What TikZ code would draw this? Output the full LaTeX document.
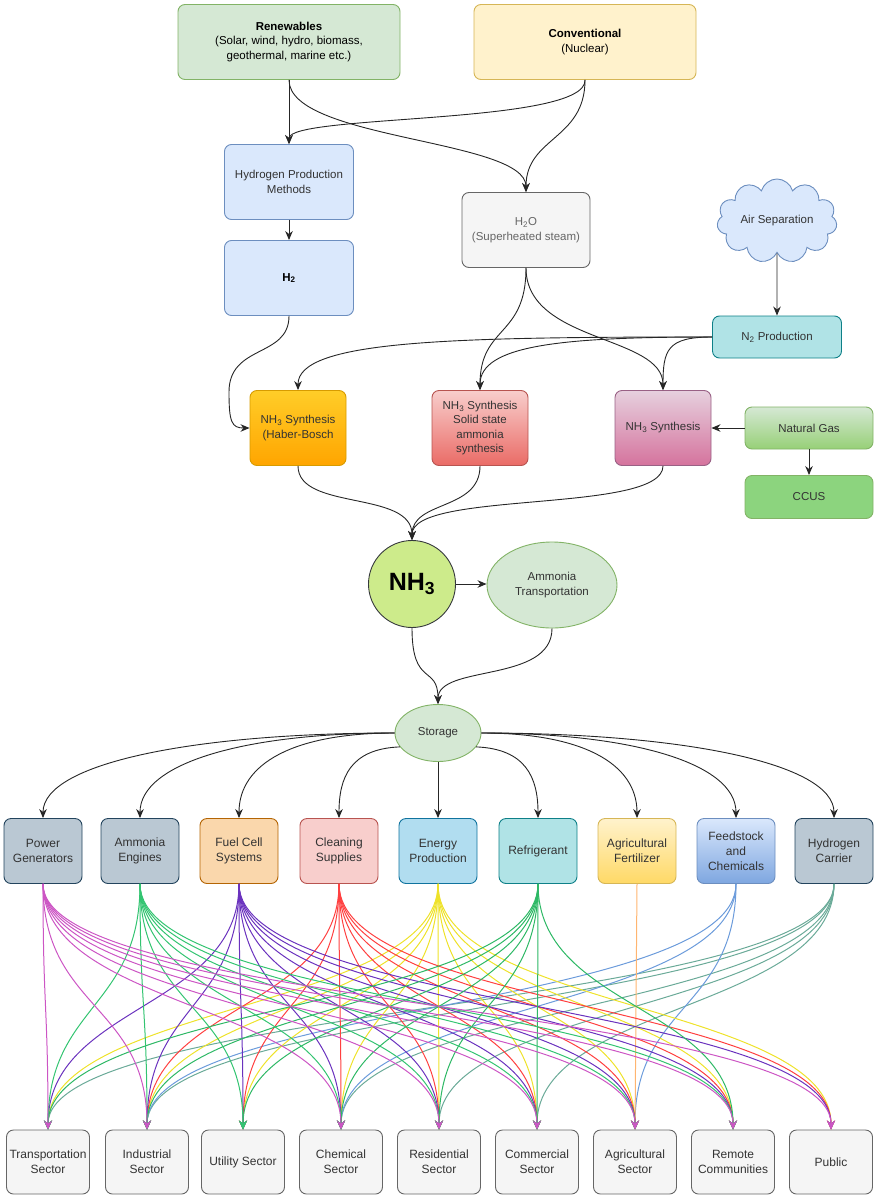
\documentclass[tikz,border=0pt]{standalone}
\usepackage{fontspec}
\setmainfont{Liberation Sans}
\usetikzlibrary{arrows.meta}
\usetikzlibrary{shapes.geometric,shapes.symbols}

\definecolor{txt}{HTML}{333333}
\definecolor{greenfill}{HTML}{D5E8D4}
\definecolor{greenline}{HTML}{82B366}
\definecolor{greendeep}{HTML}{97D077}
\definecolor{ccusfill}{HTML}{8CD47E}
\definecolor{yellowfill}{HTML}{FFF2CC}
\definecolor{yellowline}{HTML}{D6B656}
\definecolor{yellowdeep}{HTML}{FFD966}
\definecolor{bluefill}{HTML}{DAE8FC}
\definecolor{blueline}{HTML}{6C8EBF}
\definecolor{bluedeep}{HTML}{7EA6E0}
\definecolor{grayfill}{HTML}{F5F5F5}
\definecolor{grayline}{HTML}{666666}
\definecolor{tealfill}{HTML}{B0E3E6}
\definecolor{tealline}{HTML}{0E8088}
\definecolor{slatefill}{HTML}{BAC8D3}
\definecolor{slateline}{HTML}{23445D}
\definecolor{orangetop}{HTML}{FFCD28}
\definecolor{orangebot}{HTML}{FFA500}
\definecolor{orangeline}{HTML}{D79B00}
\definecolor{redfill}{HTML}{F8CECC}
\definecolor{reddeep}{HTML}{EA6B66}
\definecolor{redline}{HTML}{B85450}
\definecolor{pinkfill}{HTML}{E6D0DE}
\definecolor{pinkdeep}{HTML}{D5739D}
\definecolor{pinkline}{HTML}{996185}
\definecolor{peachfill}{HTML}{FAD7AC}
\definecolor{peachline}{HTML}{B46504}
\definecolor{skyfill}{HTML}{B1DDF0}
\definecolor{skyline}{HTML}{10739E}
\definecolor{limefill}{HTML}{CDEB8B}
\definecolor{limeline}{HTML}{36393D}
% colours of the sector links
\definecolor{pgc}{HTML}{CC55C4}
\definecolor{aec}{HTML}{33C471}
\definecolor{fcc}{HTML}{6A32BE}
\definecolor{clc}{HTML}{FF4040}
\definecolor{epc}{HTML}{EEE22A}
\definecolor{rfc}{HTML}{2DB865}
\definecolor{afc}{HTML}{FFB570}
\definecolor{fsc}{HTML}{6B9BDB}
\definecolor{hcc}{HTML}{6AAA98}

\tikzset{   base/.style = {rectangle, rounded corners=7pt, draw, line width=0.9pt, align=center, text=txt,
                           font=\fontsize{11.5}{14.5}\selectfont, inner sep=2pt},
            topbox/.style = {base, text=black, minimum width=222pt, minimum height=75pt},
            midbox/.style = {base, minimum width=129pt, minimum height=75pt},
            synth/.style = {base, minimum width=96pt, minimum height=75pt},
            app/.style = {base, font=\fontsize{12}{15}\selectfont, minimum width=78pt, minimum height=65pt},
            sector/.style = {base, font=\fontsize{12}{15}\selectfont, fill=grayfill, draw=grayline, minimum width=83pt, minimum height=64pt},
            roundish/.style = {draw=greenline, fill=greenfill, line width=0.9pt, text=txt, align=center,
                           font=\fontsize{11.5}{14.5}\selectfont, inner sep=0pt},
            conn/.style = {-{Stealth[length=9pt,width=7.5pt]}, line width=0.9pt, draw=black!85},
            flow/.style = {-{Stealth[length=9pt,width=8pt]}, line width=1pt, draw=#1}}

\begin{document}
\begin{tikzpicture}[x=1pt,y=-1pt]
\useasboundingbox (0,0) rectangle (874,1196);

\node[topbox, fill=greenfill, draw=greenline] (ren) at (289,42) {\textbf{Renewables}\\(Solar, wind, hydro, biomass,\\geothermal, marine etc.)};
\node[topbox, fill=yellowfill, draw=yellowline] (conv) at (585,42) {\textbf{Conventional}\\(Nuclear)};
\node[midbox, fill=bluefill, draw=blueline] (hpm) at (289,182) {Hydrogen Production\\Methods};
\node[midbox, fill=bluefill, draw=blueline, text=black] (htwo) at (289,278) {\textbf{H\textsubscript{2}}};
\node[midbox, fill=grayfill, draw=grayline, text=grayline, minimum width=128pt] (water) at (526,230) {H\textsubscript{2}O\\(Superheated steam)};
\node[cloud, cloud puffs=11, aspect=1.6, draw=blueline, fill=bluefill, line width=0.9pt, text=txt,
      font=\fontsize{11.5}{14.5}\selectfont, minimum width=120pt, minimum height=75pt, inner sep=0pt] (air) at (777,221) {Air Separation};
\node[midbox, fill=tealfill, draw=tealline, minimum height=42pt] (ntwo) at (777,337) {N\textsubscript{2} Production};

\node[synth, top color=orangetop, bottom color=orangebot, draw=orangeline] (hb) at (298,428) {NH\textsubscript{3} Synthesis\\(Haber-Bosch};
\node[synth, top color=redfill, bottom color=reddeep, draw=redline] (solid) at (480,428) {NH\textsubscript{3} Synthesis\\Solid state\\ammonia\\synthesis};
\node[synth, top color=pinkfill, bottom color=pinkdeep, draw=pinkline] (pink) at (663,428) {NH\textsubscript{3} Synthesis};
\node[midbox, top color=greenfill, bottom color=greendeep, draw=greenline, minimum width=128pt, minimum height=42pt] (gas) at (809,428) {Natural Gas};
\node[midbox, fill=ccusfill, draw=greenline, minimum width=128pt, minimum height=43pt] (ccus) at (809,497) {CCUS};

\node[circle, draw=limeline, fill=limefill, line width=0.9pt, text=black,
      minimum size=87pt, inner sep=0pt, font=\fontsize{25}{30}\selectfont\bfseries] (nh) at (412,584) {NH\textsubscript{3}};
\node[ellipse, roundish, minimum width=130pt, minimum height=86pt] (trans) at (552,585) {Ammonia\\Transportation};
\node[ellipse, roundish, minimum width=86pt, minimum height=57pt] (st) at (438,733) {Storage};

% applications
\node[app, fill=slatefill, draw=slateline] (pg) at (43,851) {Power\\Generators};
\node[app, fill=slatefill, draw=slateline] (ae) at (140,851) {Ammonia\\Engines};
\node[app, fill=peachfill, draw=peachline] (fc) at (239,851) {Fuel Cell\\Systems};
\node[app, fill=redfill, draw=redline] (cl) at (339,851) {Cleaning\\Supplies};
\node[app, fill=skyfill, draw=skyline] (ep) at (438,851) {Energy\\Production};
\node[app, fill=tealfill, draw=tealline] (rf) at (538,851) {Refrigerant};
\node[app, top color=yellowfill, bottom color=yellowdeep, draw=yellowline] (af) at (637,851) {Agricultural\\Fertilizer};
\node[app, top color=bluefill, bottom color=bluedeep, draw=blueline] (fs) at (736,851) {Feedstock\\and\\Chemicals};
\node[app, fill=slatefill, draw=slateline] (hc) at (834,851) {Hydrogen\\Carrier};

% sectors
\node[sector] (ts) at (48,1162) {Transportation\\Sector};
\node[sector] (is) at (147,1162) {Industrial\\Sector};
\node[sector] (us) at (243,1162) {Utility Sector};
\node[sector] (cs) at (341,1162) {Chemical\\Sector};
\node[sector] (rs) at (439,1162) {Residential\\Sector};
\node[sector] (coms) at (537,1162) {Commercial\\Sector};
\node[sector] (as) at (635,1162) {Agricultural\\Sector};
\node[sector] (rc) at (733,1162) {Remote\\Communities};
\node[sector] (pub) at (831,1162) {Public};

% upper flow
\draw[conn] (ren.south) -- (hpm.north);
\draw[conn] (ren.south) .. controls +(0,60) and +(0,-53) .. (water.north);
\draw[conn] (conv.south) .. controls +(2,45) and +(0,-30) .. (hpm.north);
\draw[conn] (conv.south) .. controls +(0,60) and +(0,-55) .. (water.north);
\draw[conn] (hpm) -- (htwo);
\coordinate (hbend) at (229,392);
\draw[conn] (htwo.south) .. controls +(0,42) and +(0,-48) .. (hbend) .. controls +(0,30) and +(-18,0) .. (hb.west);
\draw[conn] (water.south) .. controls +(0,70) and +(0,-65) .. (solid.north);
\draw[conn] (water.south) .. controls +(0,75) and +(0,-55) .. (pink.north);
\draw[conn] (air.south) -- (ntwo.north);
\draw[conn] (ntwo.west) .. controls +(-260,0) and +(0,-50) .. (hb.north);
\draw[conn] (ntwo.west) .. controls +(-150,0) and +(0,-45) .. (solid.north);
\draw[conn] (ntwo.west) .. controls +(-45,0) and +(0,-40) .. (pink.north);
\draw[conn] (gas.west) -- (pink.east);
\draw[conn] (gas) -- (ccus);
\draw[conn] (hb.south) .. controls +(0,45) and +(0,-50) .. (nh.north);
\draw[conn] (solid.south) .. controls +(0,45) and +(0,-40) .. (nh.north);
\draw[conn] (pink.south) .. controls +(0,48) and +(0,-50) .. (nh.north);
\draw[conn] (nh.east) -- (trans.west |- nh.east);
\draw[conn] (nh.south) .. controls +(0,60) and +(0,-40) .. (st.north);
\draw[conn] (trans.south) .. controls +(0,55) and +(0,-40) .. (st.north);

% storage to applications
\foreach \a/\d in {pg/-200, ae/-150, fc/-100}
    \draw[conn] (st.west) .. controls +(\d,0) and +(0,-55) .. (\a.north);
\draw[conn] (st.200) .. controls +(-50,2) and +(0,-40) .. (cl.north);
\draw[conn] (st.south) -- (ep.north);
\draw[conn] (st.340) .. controls +(50,2) and +(0,-40) .. (rf.north);
\foreach \a/\d in {af/100, fs/150, hc/200}
    \draw[conn] (st.east) .. controls +(\d,0) and +(0,-55) .. (\a.north);

% applications to sectors
\foreach \t in {ts,is,cs,rs,coms}
    \draw[flow=hcc] (hc.south) .. controls +(0,125) and +(0,-125) .. (\t.north);
\foreach \t in {is,cs,as}
    \draw[flow=fsc] (fs.south) .. controls +(0,125) and +(0,-125) .. (\t.north);
\draw[flow=afc] (af.south) -- (as.north);
\foreach \t in {ts,is,us,cs,rs,coms,as,rc,pub}
    \draw[flow=epc] (ep.south) .. controls +(0,125) and +(0,-125) .. (\t.north);
\foreach \t in {is,us,cs,rs,coms,as,rc,pub}
    \draw[flow=clc] (cl.south) .. controls +(0,125) and +(0,-125) .. (\t.north);
\foreach \t in {ts,is,us,cs,rs,coms,as,rc,pub}
    \draw[flow=fcc] (fc.south) .. controls +(0,125) and +(0,-125) .. (\t.north);
\foreach \t in {ts,is,us,cs,rs,coms,rc}
    \draw[flow=rfc] (rf.south) .. controls +(0,125) and +(0,-125) .. (\t.north);
\foreach \t in {ts,is,us,cs,rs,coms,as,rc}
    \draw[flow=aec] (ae.south) .. controls +(0,125) and +(0,-125) .. (\t.north);
\foreach \t in {ts,is,cs,rs,coms,as,rc,pub}
    \draw[flow=pgc] (pg.south) .. controls +(0,125) and +(0,-125) .. (\t.north);
\end{tikzpicture}
\end{document}
